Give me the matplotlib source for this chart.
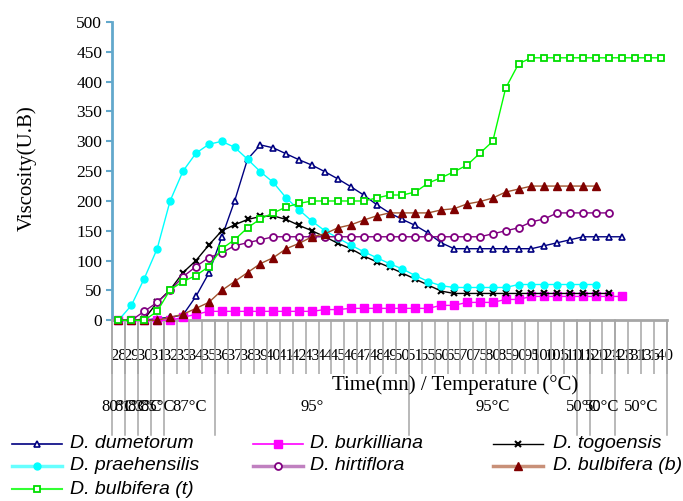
import matplotlib
matplotlib.use("Agg")
import matplotlib.pyplot as plt
from matplotlib.lines import Line2D

# =============================
# DATA
# =============================

time_labels = ["28", "29", "30", "31", "32", "33", "34", "35", "36", "37", "38", "39",
               "40", "41", "42", "43", "44", "45", "46", "47", "48", "49", "50", "51",
               "55", "60", "65", "70", "75", "80", "85", "90", "95", "100", "105", "110",
               "115", "120", "124", "128", "131", "135", "140"]

temp_labels = ["80°C", "81°C", "83°C", "85°C", "87°C", "95°", "95°C", "50°C", "50°C", "50°C"]
temp_bounds = [0, 1, 2, 3, 4, 8, 23, 36, 37, 39, 43]

dumetorum = [0, 0, 0, 3, 5, 9, 40, 79, 139, 200,
             270, 294, 289, 279, 269, 260, 249, 237, 224, 210,
             194, 180, 169, 159, 146, 130, 120, 120, 120, 120,
             120, 120, 120, 125, 130, 135, 140, 140, 140, 140]
burkilliana = [0, 0, 0, 0, 0, 5, 10, 15, 15, 15,
               15, 15, 15, 15, 15, 15, 18, 18, 20, 20,
               20, 20, 20, 20, 20, 25, 25, 30, 30, 30,
               35, 35, 40, 40, 40, 40, 40, 40, 40, 40]
togoensis = [0, 0, 2, 30, 51, 80, 100, 126, 150, 160,
             169, 174, 175, 169, 159, 150, 140, 129, 120, 108,
             98, 89, 79, 69, 59, 49, 45, 45, 45, 45,
             45, 45, 45, 45, 45, 45, 45, 45, 45]
praehensilis = [0, 25, 70, 120, 200, 250, 280, 295, 300, 290,
                270, 249, 231, 205, 185, 166, 150, 138, 126, 115,
                105, 95, 86, 75, 65, 58, 55, 55, 55, 55,
                55, 60, 60, 60, 60, 60, 60, 60]
hirtiflora = [0, 0, 15, 30, 50, 73, 90, 105, 113, 125,
              130, 135, 140, 140, 140, 140, 140, 140, 140, 140,
              140, 140, 140, 140, 140, 140, 140, 140, 140, 145,
              150, 155, 165, 170, 180, 180, 180, 180, 180]
bulbifera_b = [0, 0, 0, 0, 5, 10, 20, 30, 50, 65,
               80, 95, 105, 120, 129, 140, 145, 155, 160, 168,
               175, 180, 180, 180, 180, 185, 187, 195, 199, 205,
               215, 220, 225, 225, 225, 225, 225, 225]
bulbifera_t = [0, 0, 0, 15, 51, 65, 75, 90, 120, 135,
               155, 170, 180, 190, 196, 200, 200, 200, 200, 200,
               205, 210, 210, 215, 230, 239, 249, 260, 280, 300,
               389, 430, 440, 440, 440, 440, 440, 440, 440, 440,
               440, 440, 440]

# =============================
# STYLES
# =============================

series = [
    ("D. dumetorum", dumetorum, dict(color="#000080", marker="^", mfc="white", mec="#000080", ms=5, mew=1.2),
     (0, 0), "#000080", 1.2),
    ("D. burkilliana", burkilliana, dict(color="#FF00FF", marker="s", mfc="#FF00FF", mec="#FF00FF", ms=5.5),
     (1, 0), "#FF00FF", 1.2),
    ("D. togoensis", togoensis, dict(color="black", marker="x", mfc="black", mec="black", ms=5, mew=1.5),
     (2, 0), "black", 1.0),
    ("D. praehensilis", praehensilis, dict(color="#00FFFF", marker="o", mfc="#00FFFF", mec="#00FFFF", ms=5),
     (0, 1), "#66FFFF", 2.5),
    ("D. hirtiflora", hirtiflora, dict(color="#800080", marker="o", mfc="white", mec="#800080", ms=5, mew=1.3),
     (1, 1), "#C080C0", 2.5),
    ("D. bulbifera (b)", bulbifera_b, dict(color="#A0522D", marker="^", mfc="#800000", mec="#800000", ms=5.5),
     (2, 1), "#C89078", 2.5),
    ("D. bulbifera (t)", bulbifera_t, dict(color="#00FF00", marker="s", mfc="white", mec="#00DD00", ms=5, mew=1.3),
     (0, 2), "#33FF33", 1.5),
]

W, H = 683, 501
fig = plt.figure(figsize=(W / 100, H / 100), dpi=100)

# axes box in pixels (from the reference)
x_left, x_right = 112, 667
y_top, y_bot = 22, 320.3
ax = fig.add_axes([x_left / W, (H - y_bot) / H, (x_right - x_left) / W, (y_bot - y_top) / H])


def ay(py):
    # pixel row -> axes fraction
    return (y_bot - py) / (y_bot - y_top)


serif = "Liberation Serif"

for name, vals, st, _, _, _ in series:
    ax.plot(range(len(vals)), vals, lw=1, clip_on=False, zorder=3, **st)

ax.set_xlim(-0.5, len(time_labels) - 0.5)
ax.set_ylim(0, 500)
ax.set_yticks(range(0, 501, 50))
ax.set_yticklabels([str(v) for v in range(0, 501, 50)], fontfamily=serif, fontsize=12.5)

ax.set_xticks(range(len(time_labels)))
ax.set_xticklabels(time_labels, fontfamily=serif, fontsize=12)
ax.set_xticks([i - 0.5 for i in range(len(time_labels) + 1)], minor=True)
ax.tick_params(axis="x", which="major", length=0, pad=20)
ax.tick_params(axis="x", which="minor", length=39, width=1.1, color="#A6A6A6")
ax.tick_params(axis="y", length=4, width=1.5, color="#62A8CC", pad=3)

for s in ["top", "right"]:
    ax.spines[s].set_visible(False)
ax.spines["left"].set_color("#62A8CC")
ax.spines["left"].set_linewidth(2)
ax.spines["bottom"].set_color("#A6A6A6")
ax.spines["bottom"].set_linewidth(2)

# second level of the category axis (temperature)
tr = ax.get_xaxis_transform()
for b in temp_bounds:
    ax.plot([b - 0.5, b - 0.5], [0, ay(435)], color="#A6A6A6", lw=1.1,
            transform=tr, clip_on=False)
for i, lab in enumerate(temp_labels):
    xc = (temp_bounds[i] + temp_bounds[i + 1]) / 2 - 0.5
    ax.text(xc, ay(407), lab, transform=tr, ha="center", va="center",
            fontfamily=serif, fontsize=12)

# axis titles
fig.text(455 / W, 1 - 385 / H, "Time(mn) / Temperature (°C)", ha="center", va="center",
         fontfamily=serif, fontsize=15)
fig.text(27 / W, 1 - 168 / H, "Viscosity(U.B)", ha="center", va="center", rotation=90,
         fontfamily=serif, fontsize=15)

# legend, three columns like the reference
col_x = [12, 253, 493]
col_text = [70, 310, 553]
row_y = [444, 466, 489]
for name, vals, st, (c, r), lcol, lw in series:
    x0 = col_x[c] / W
    x1 = (col_x[c] + 50) / W
    yy = 1 - row_y[r] / H
    fig.add_artist(Line2D([x0, x1], [yy, yy], color=lcol, lw=lw, transform=fig.transFigure))
    mk = {k: v for k, v in st.items() if k != "color"}
    fig.add_artist(Line2D([(x0 + x1) / 2], [yy], lw=0, transform=fig.transFigure, **mk))
    fig.text(col_text[c] / W, yy, name, ha="left", va="center", fontfamily="Liberation Sans",
             fontstyle="italic", fontsize=14)

fig.savefig("out.png", dpi=100)
